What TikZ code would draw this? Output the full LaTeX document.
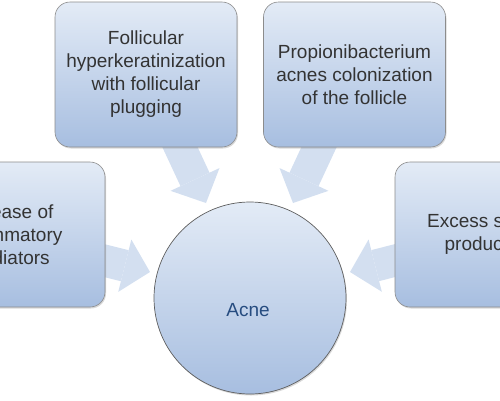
\documentclass[tikz,border=0pt]{standalone}
\usepackage{fontspec}
\setmainfont{Liberation Sans}
\usetikzlibrary{arrows.meta,shadows}
\definecolor{boxtop}{HTML}{E3EBF6}
\definecolor{boxbot}{HTML}{A7BEE0}
\definecolor{arrowcol}{HTML}{D3DFF0}
\definecolor{txt}{HTML}{333333}
\definecolor{acnetxt}{HTML}{264C80}
\definecolor{boxedge}{HTML}{8C8C8C}
\definecolor{hubedge}{HTML}{5E5E5E}
\begin{document}
\begin{tikzpicture}[x=1pt,y=-1pt,
  factor/.style={draw=boxedge, line width=0.6pt, rounded corners=15pt,
    top color=boxtop, bottom color=boxbot,
    minimum width=182pt, minimum height=145pt, align=center, text=txt,
    font=\fontsize{19}{23}\selectfont, inner sep=0pt,
    drop shadow={opacity=0.3, shadow xshift=1pt, shadow yshift=-1.5pt}},
  factortext/.style={align=center, text=txt,
    font=\fontsize{19}{23}\selectfont, inner sep=0pt},
  hub/.style={circle, draw=hubedge, line width=0.7pt,
    top color=boxtop, bottom color=boxbot, minimum size=192pt, inner sep=0pt,
    drop shadow={opacity=0.3, shadow xshift=1pt, shadow yshift=-1.5pt}},
  hubtext/.style={text=acnetxt, font=\fontsize{19}{23}\selectfont, inner sep=0pt},
  bigarrow/.style={draw=arrowcol, line width=32pt,
    -{Triangle[width=54pt,length=26pt,line width=0pt]}}
]
\useasboundingbox (0,0) rectangle (500,400);
\clip (0,0) rectangle (500,400);
% arrow end points
\coordinate (s1) at (172,130); \coordinate (e1) at (206,203);
\coordinate (s2) at (327,130); \coordinate (e2) at (293,203);
\coordinate (s3) at (82,255);  \coordinate (e3) at (150,272);
\coordinate (s4) at (417,255); \coordinate (e4) at (350,272);
\draw[bigarrow] (s1) -- (e1);
\draw[bigarrow] (s2) -- (e2);
\draw[bigarrow] (s3) -- (e3);
\draw[bigarrow] (s4) -- (e4);
% boxes
\node[factor] (tl) at (146,74.5) {Follicular\\hyperkeratinization\\with follicular\\plugging};
\node[factor] (tr) at (354.5,74.5) {Propionibacterium\\acnes colonization\\of the follicle};
\node[factor] (ml) at (14,234.5) {};
\node[factortext] (mltext) at (8,235) {Release of\\inflammatory\\mediators};
\node[factor] (mr) at (486,234.5) {};
\node[factortext] (mrtext) at (489,234.5) {Excess sebum\\production};
\node[hub] (acne) at (250,298) {};
\node[hubtext] (acnelabel) at (248,310) {Acne};
\end{tikzpicture}
\end{document}
